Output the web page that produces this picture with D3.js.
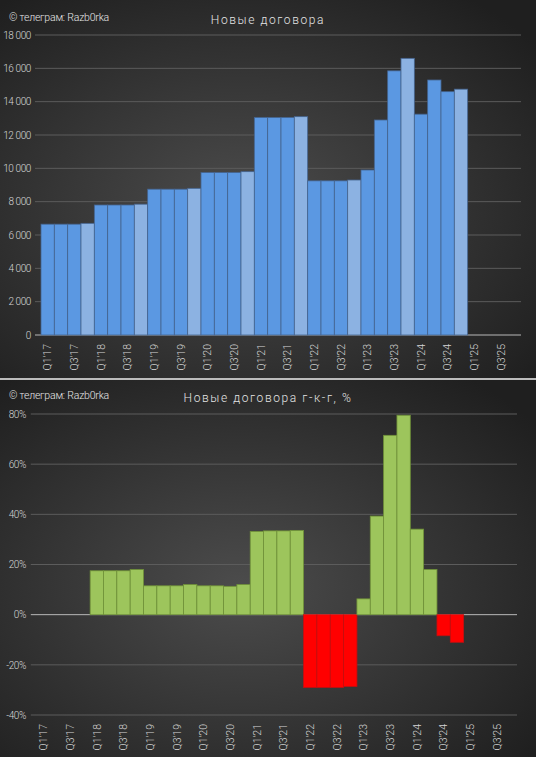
<!DOCTYPE html>
<html>
<head>
<meta charset="utf-8">
<script src="https://cdn.jsdelivr.net/npm/d3@7"></script>
<style>
  html, body { margin: 0; padding: 0; background: #222; }
  svg { display: block; }
  text { font-family: "Liberation Sans Narrow", "Roboto", "DejaVu Sans", sans-serif; }
</style>
</head>
<body>
<svg id="chart"></svg>
<script>
// quarters Q1'17 .. Q4'25
const years = ["17", "18", "19", "20", "21", "22", "23", "24", "25"];
const quarters = years.flatMap((y) => [1, 2, 3, 4].map((q) => `Q${q}'${y}`));

// новые договора, шт.
const contracts = [
  6650, 6650, 6650, 6700,
  7800, 7800, 7800, 7850,
  8750, 8750, 8750, 8800,
  9750, 9750, 9750, 9800,
  13050, 13050, 13050, 13100,
  9250, 9250, 9250, 9300,
  9900, 12900, 15850, 16600,
  13250, 15300, 14600, 14750,
  null, null, null, null
];

// рост г-к-г, %
const yoy = [
  null, null, null, null,
  17.5, 17.5, 17.5, 18.0,
  11.5, 11.5, 11.5, 12.0,
  11.5, 11.5, 11.3, 12.0,
  33.2, 33.4, 33.4, 33.6,
  -29.0, -29.0, -29.0, -28.6,
  6.3, 39.3, 71.5, 79.5,
  34.1, 18.0, -8.4, -11.0,
  null, null, null, null
];

const yTicksTop = [0, 2000, 4000, 6000, 8000, 10000, 12000, 14000, 16000, 18000];
const yTicksBottom = [-40, -20, 0, 20, 40, 60, 80];

const W = 536;
const H = 757;

const svg = d3.select("#chart").attr("width", W).attr("height", H);

const defs = svg.append("defs");
const grad = defs
  .append("radialGradient")
  .attr("id", "bg")
  .attr("cx", "45%")
  .attr("cy", "55%")
  .attr("r", "70%");
grad.append("stop").attr("offset", "0%").attr("stop-color", "#4c4c4c");
grad.append("stop").attr("offset", "100%").attr("stop-color", "#1f1f1f");

const fmtThousands = (v) => d3.format(",")(v).replace(/,/g, "\u00a0");

function panel(opts) {
  const g = svg.append("g").attr("transform", `translate(0, ${opts.top})`);

  g.append("rect").attr("width", W).attr("height", opts.height).attr("fill", "url(#bg)");

  const x = d3.scaleBand().domain(quarters).range(opts.xRange).padding(0);
  const y = d3.scaleLinear().domain(opts.domain).range(opts.yRange);

  // grid
  g.selectAll(".grid")
    .data(opts.ticks)
    .enter()
    .append("line")
    .attr("x1", opts.xRange[0] - 6)
    .attr("x2", opts.xRange[1])
    .attr("y1", (d) => y(d))
    .attr("y2", (d) => y(d))
    .attr("stroke", (d) => (d === 0 ? "#b8b8b8" : "#5c5c5c"))
    .attr("stroke-width", 1);

  // y axis labels
  const yAxis = d3
    .axisLeft(y)
    .tickValues(opts.ticks)
    .tickSize(0)
    .tickPadding(0)
    .tickFormat(opts.format);
  const ya = g.append("g").attr("transform", `translate(${opts.labelX}, 0)`).call(yAxis);
  ya.select(".domain").remove();
  ya.selectAll("text")
    .attr("fill", "#d6d6d6")
    .attr("font-size", 10)
    .attr("letter-spacing", -0.4)
    .attr("font-family", "Roboto, sans-serif")
    .attr("font-weight", 300);

  // bars
  const data = quarters.map((q, i) => ({ q, i, v: opts.values[i] })).filter((d) => d.v != null);
  g.selectAll(".bar")
    .data(data)
    .enter()
    .append("rect")
    .attr("x", (d) => x(d.q))
    .attr("width", x.bandwidth())
    .attr("y", (d) => y(Math.max(0, d.v)))
    .attr("height", (d) => Math.abs(y(d.v) - y(0)))
    .attr("fill", (d) => opts.color(d))
    .attr("stroke", (d) => opts.stroke(d))
    .attr("stroke-width", 0.8);

  // x axis labels (every other quarter)
  const xAxis = d3
    .axisBottom(x)
    .tickValues(quarters.filter((q, i) => i % 2 === 0))
    .tickSize(0)
    .tickPadding(0);
  const xa = g.append("g").attr("transform", `translate(0, ${opts.xLabelY})`).call(xAxis);
  xa.select(".domain").remove();
  xa.selectAll("text")
    .attr("fill", "#d6d6d6")
    .attr("font-size", 10.5)
    .attr("font-family", "Roboto, sans-serif")
    .attr("font-weight", 300)
    .attr("transform", "rotate(-90)")
    .attr("text-anchor", "end")
    .attr("x", 0)
    .attr("y", 0)
    .attr("dy", "0.35em");

  // title and watermark
  g.append("text")
    .attr("x", W / 2)
    .attr("y", opts.titleY)
    .attr("text-anchor", "middle")
    .attr("fill", "#e4e4e4")
    .attr("font-family", "'Open Sans', 'DejaVu Sans', sans-serif")
    .attr("font-size", 12)
    .attr("font-weight", 300)
    .attr("letter-spacing", 1.6)
    .text(opts.title);

  g.append("text")
    .attr("x", 9)
    .attr("y", opts.titleY - 3)
    .attr("fill", "#e6e6e6")
    .attr("font-family", "Roboto, sans-serif")
    .attr("font-weight", 300)
    .attr("font-size", 10.5)
    .attr("letter-spacing", -0.2)
    .text("© телеграм: Razb0rka");
}

panel({
  top: 0,
  height: 378,
  xRange: [41, 521],
  domain: [0, 18000],
  yRange: [335, 35],
  ticks: yTicksTop,
  values: contracts,
  format: fmtThousands,
  labelX: 31,
  xLabelY: 344,
  title: "Новые договора",
  titleY: 24,
  color: (d) => (d.i % 4 === 3 ? "#8cb2e2" : "#5b98e2"),
  stroke: () => "#45648f"
});

svg.append("line")
  .attr("x1", 0)
  .attr("x2", W)
  .attr("y1", 379)
  .attr("y2", 379)
  .attr("stroke", "#f0f0f0")
  .attr("stroke-width", 1.5);

panel({
  top: 380,
  height: 377,
  xRange: [36.8, 517],
  domain: [-40, 80],
  yRange: [335, 34],
  ticks: yTicksBottom,
  values: yoy,
  format: (v) => `${v}%`,
  labelX: 26,
  xLabelY: 344,
  title: "Новые договора  г-к-г,  %",
  titleY: 22,
  color: (d) => (d.v < 0 ? "#ff0000" : "#9dc55c"),
  stroke: (d) => (d.v < 0 ? "#c21010" : "#6f9138")
});
</script>
</body>
</html>
